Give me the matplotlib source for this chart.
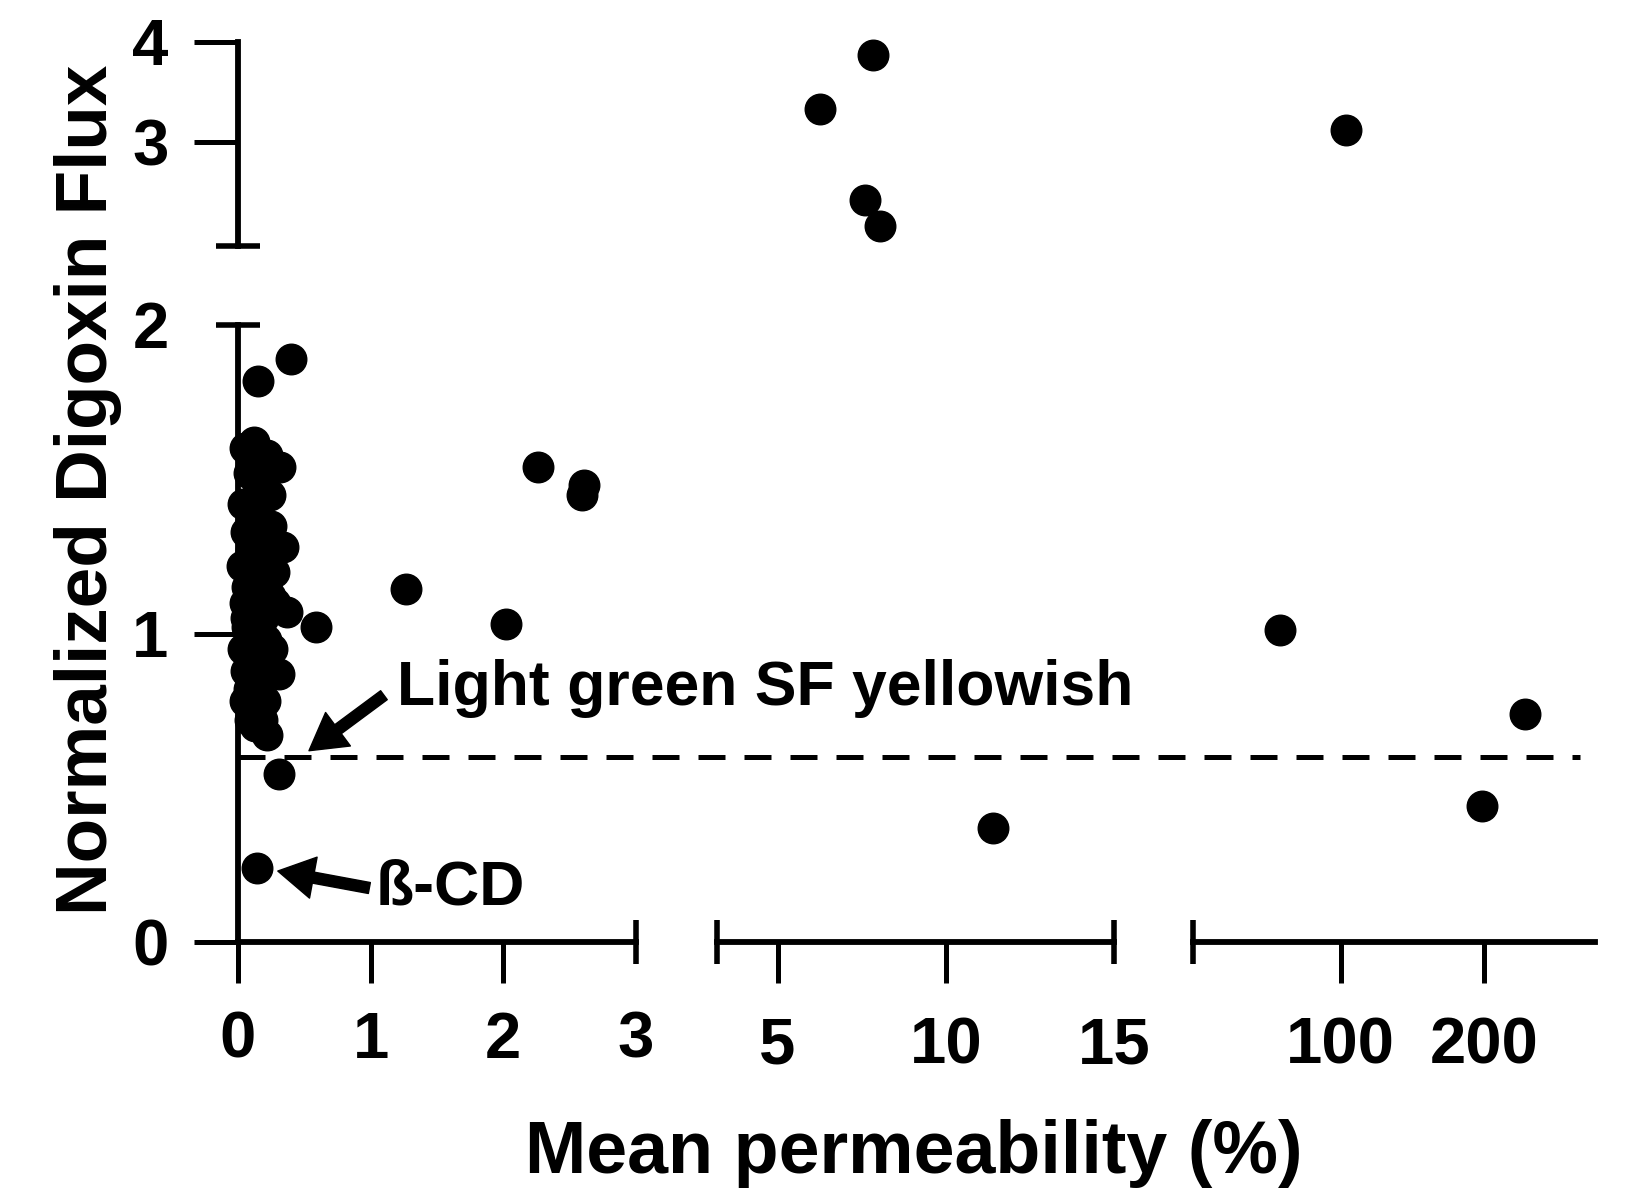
import numpy as np
import matplotlib
matplotlib.use("Agg")
import matplotlib.pyplot as plt
from matplotlib.ticker import FixedLocator, FixedFormatter, NullLocator
from matplotlib.transforms import blended_transform_factory

plt.rcParams['font.family'] = ['Liberation Sans', 'DejaVu Sans']
plt.rcParams['font.weight'] = 'bold'

# ── data ─────────────────────────────────────────────────────────────────────
# segment 1 : 0 - 3 %
seg1_x = [0.05, 0.12, 0.18, 0.08, 0.15, 0.22, 0.04, 0.10, 0.17, 0.06,
          0.13, 0.20, 0.03, 0.09, 0.16, 0.24, 0.05, 0.11, 0.19, 0.07,
          0.14, 0.21, 0.04, 0.10, 0.18, 0.06, 0.12, 0.08, 0.15, 0.05,
          0.11, 0.09, 0.13, 0.07, 0.16, 0.10, 0.06, 0.14, 0.08, 0.12,
          0.25, 0.27, 0.28, 0.24, 0.22, 0.26, 0.20, 0.18, 0.23, 0.21,
          0.15, 0.40, 0.32, 0.34, 0.37, 0.31, 0.22, 0.59, 0.31, 0.14,
          1.27, 2.02, 2.26, 2.61, 2.59]
seg1_y = [1.60, 1.62, 1.58, 1.52, 1.48, 1.45, 1.42, 1.40, 1.36, 1.33,
          1.30, 1.25, 1.22, 1.20, 1.18, 1.12, 1.10, 1.08, 1.05, 1.02,
          1.00, 0.98, 0.95, 0.93, 0.90, 0.88, 0.85, 0.82, 0.80, 0.78,
          0.75, 0.72, 0.70, 1.15, 1.38, 1.27, 1.05, 1.44, 0.97, 0.86,
          1.35, 1.20, 1.10, 1.45, 1.58, 0.95, 0.78, 0.72, 1.30, 1.15,
          1.82, 1.89, 1.54, 1.28, 1.07, 0.87, 0.67, 1.02, 0.545, 0.24,
          1.145, 1.03, 1.54, 1.48, 1.45]

# segment 2 : 3 - 15 %
seg2_x = [11.4, 6.27, 7.83, 7.61, 8.04]
seg2_y = [0.37, 3.33, 3.87, 2.42, 2.16]

# segment 3 : 50 - 340 % (log)
seg3_x = [74.7, 102.5, 198.0, 244.0]
seg3_y = [1.01, 3.12, 0.44, 0.74]

threshold = 0.6

seg_xlims = [(0, 3), (3.2, 15), (49, 342)]
seg_xticks = [[0, 1, 2, 3], [5, 10, 15], [100, 200]]
seg_xlabels = [['0', '1', '2', '3'], ['5', '10', '15'], ['100', '200']]
low_ylim, low_yticks = (0, 2), [0, 1, 2]
up_ylim, up_yticks = (1.96, 4), [3, 4]

# ── layout ───────────────────────────────────────────────────────────────────
W, H = 1629, 1197
fig = plt.figure(figsize=(W / 100, H / 100), dpi=100)

col_px = [(238, 636), (717, 1114), (1193, 1595)]
low_px = (942, 325)
up_px = (245.7, 41.7)

def rect(cx, ry):
    l, r = cx
    b, t = ry
    return [l / W, 1 - b / H, (r - l) / W, (b - t) / H]

LW = 4.2
TICK_FS = 47
low_axes, up_axes = [], []
for i, cx in enumerate(col_px):
    ax = fig.add_axes(rect(cx, low_px), facecolor='none')
    axu = fig.add_axes(rect(cx, up_px), facecolor='none')
    for a in (ax, axu):
        for s in ('top', 'right'):
            a.spines[s].set_visible(False)
        if i == 2:
            a.set_xscale('log')
        a.set_xlim(*seg_xlims[i])
    ax.set_ylim(*low_ylim)
    axu.set_ylim(*up_ylim)

    ax.xaxis.set_major_locator(FixedLocator(seg_xticks[i]))
    ax.xaxis.set_major_formatter(FixedFormatter(seg_xlabels[i]))
    ax.xaxis.set_minor_locator(NullLocator())
    ax.spines['bottom'].set_linewidth(LW)
    ax.tick_params(axis='x', direction='out', length=29.5, width=3.6,
                   labelsize=TICK_FS, pad=20 if i == 0 else 24)

    axu.spines['bottom'].set_visible(False)
    axu.set_xticks([])
    axu.xaxis.set_minor_locator(NullLocator())
    if i == 0:
        for a, yt in ((ax, low_yticks), (axu, up_yticks)):
            a.yaxis.set_major_locator(FixedLocator(yt))
            a.spines['left'].set_linewidth(LW)
            a.tick_params(axis='y', direction='out', length=32, width=3.6,
                          labelsize=TICK_FS, pad=18)
    else:
        for a in (ax, axu):
            a.spines['left'].set_visible(False)
            a.set_yticks([])
    low_axes.append(ax)
    up_axes.append(axu)

ax1, ax2, ax3 = low_axes
ax1u, ax2u, ax3u = up_axes

# hide ticks that are replaced by end caps
ax1.xaxis.get_major_ticks()[3].tick1line.set_visible(False)
ax2.xaxis.get_major_ticks()[2].tick1line.set_visible(False)
ax1.yaxis.get_major_ticks()[2].tick1line.set_visible(False)

cap = dict(color='black', ms=32, mew=4, clip_on=False, zorder=5)
ax1.plot([3], [0], marker='|', **cap)
ax2.plot([3.2, 15], [0, 0], marker='|', ls='none', **cap)
ax3.plot([49], [0], marker='|', **cap)
ax1.plot([0], [2], marker='_', **cap)
ax1u.plot([0], [1.96], marker='_', **cap)

# ── points ───────────────────────────────────────────────────────────────────
mk = dict(marker='o', ls='none', color='black', ms=22, clip_on=False, zorder=4)
ax1.plot(seg1_x, seg1_y, **mk)
for xv, yv in zip(seg2_x, seg2_y):
    (ax2u if yv > 2 else ax2).plot([xv], [yv], **mk)
for xv, yv in zip(seg3_x, seg3_y):
    (ax3u if yv > 2 else ax3).plot([xv], [yv], **mk)

# dashed threshold line, running through the axis gaps
tr = blended_transform_factory(fig.transFigure, ax1.transData)
fig.add_artist(plt.Line2D([238 / W, 1580 / W], [threshold, threshold],
                          transform=tr, color='black', lw=3.6,
                          ls=(0, (5.4, 3.8)), zorder=3))

# ── annotations ──────────────────────────────────────────────────────────────
arrow = dict(facecolor='black', edgecolor='black', width=8, headwidth=30,
             headlength=26, shrink=0)
ax1.annotate('', xy=(0.535, 0.62), xytext=(1.10, 0.80), arrowprops=arrow,
             annotation_clip=False)
ax1.text(1.20, 0.823, 'Light green SF yellowish', fontsize=45,
         fontweight='bold', ha='left', va='center', clip_on=False)
ax1.annotate('', xy=(0.30, 0.23), xytext=(0.99, 0.175), arrowprops=arrow,
             annotation_clip=False)
ax1.text(1.04, 0.175, 'ß-CD', fontsize=45, fontweight='bold',
         ha='left', va='center', clip_on=False)

fig.text(914 / W, 1 - 1153 / H, 'Mean permeability (%)', fontsize=53,
         fontweight='bold', ha='center', va='center')
fig.text(88 / W, 1 - 490 / H, 'Normalized Digoxin Flux', fontsize=52.5,
         fontweight='bold', ha='center', va='center', rotation=90)

fig.savefig('out.png', dpi=100)
